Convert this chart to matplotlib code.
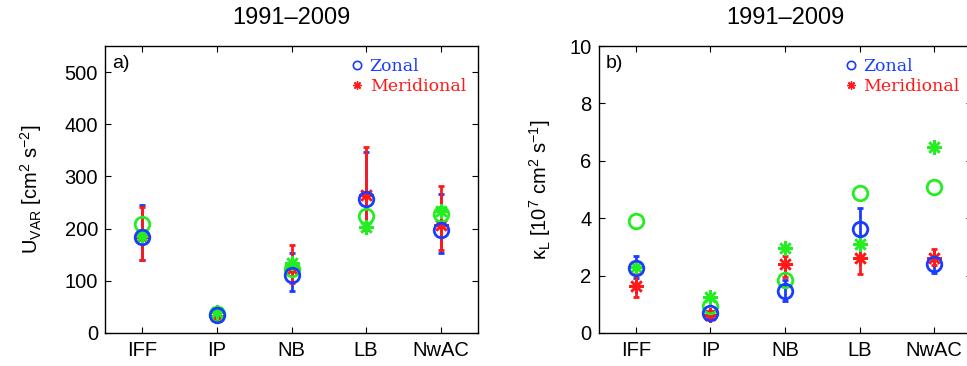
import matplotlib
matplotlib.use('Agg')
import matplotlib.pyplot as plt
from matplotlib.lines import Line2D
import numpy as np

# ==============================
# data
# ==============================
regions = ['IFF', 'IP', 'NB', 'LB', 'NwAC']

# panel a) velocity variance [cm^2 s^-2]
var_zonal      = [184, 35, 112, 256, 198]
var_zonal_lo   = [45, 5, 32, 51, 44]
var_zonal_hi   = [62, 6, 42, 91, 69]
var_merid      = [184, 32, 122, 265, 207]
var_merid_lo   = [45, 5, 26, 67, 47]
var_merid_hi   = [58, 6, 46, 91, 74]
var_model_zon  = [208, 36, 122, 224, 229]
var_model_mer  = [185, 40, 135, 204, 233]

# panel b) diffusivity [10^7 cm^2 s^-1]
kap_zonal      = [2.27, 0.68, 1.46, 3.64, 2.39]
kap_zonal_lo   = [0.35, 0.10, 0.35, 0.60, 0.29]
kap_zonal_hi   = [0.41, 0.10, 0.40, 0.73, 0.29]
kap_merid      = [1.65, 0.64, 2.39, 2.62, 2.62]
kap_merid_lo   = [0.40, 0.10, 0.45, 0.58, 0.25]
kap_merid_hi   = [0.40, 0.12, 0.29, 0.55, 0.29]
kap_model_zon  = [3.90, 0.93, 1.86, 4.87, 5.07]
kap_model_mer  = [2.30, 1.25, 2.97, 3.09, 6.47]

BLUE  = '#1a3cff'
RED   = '#ff1a1a'
GREEN = '#22ee22'
AST   = (8, 2, 0)   # matlab style asterisk

plt.rcParams['font.family'] = ['Liberation Sans', 'DejaVu Sans']
plt.rcParams['mathtext.fontset'] = 'custom'
plt.rcParams['mathtext.rm'] = 'Liberation Sans'
plt.rcParams['mathtext.it'] = 'Liberation Sans'

fig = plt.figure(figsize=(9.67, 3.66), dpi=100)
ax_a = fig.add_axes([105 / 967, 33 / 366, 373 / 967, 287 / 366])
ax_b = fig.add_axes([598.5 / 967, 33 / 366, 373 / 967, 287 / 366])

x = np.arange(1, len(regions) + 1)


def draw_panel(ax, zon, zlo, zhi, mer, mlo, mhi, mzon, mmer):
    ax.errorbar(x, zon, yerr=[zlo, zhi], fmt='o', color=BLUE, mfc='none',
                mec=BLUE, ms=10.5, mew=2, elinewidth=2, capsize=2.5, capthick=2)
    ax.errorbar(x, mer, yerr=[mlo, mhi], fmt='none', ecolor=RED,
                elinewidth=2, capsize=2.5, capthick=2)
    ax.plot(x, mer, ls='none', marker=AST, color=RED, ms=10.5, mew=1.8)
    ax.plot(x, mzon, 'o', mfc='none', mec=GREEN, ms=10.5, mew=2, ls='none')
    ax.plot(x, mmer, ls='none', marker=AST, color=GREEN, ms=10.5, mew=1.8)
    ax.set_xlim(0.5, 5.5)
    ax.set_xticks(x)
    ax.set_xticklabels(regions)
    ax.tick_params(direction='in', top=True, right=True, labelsize=14.5,
                   length=4, width=0.8, pad=6)
    ax.tick_params(axis='y', pad=5)
    for s in ax.spines.values():
        s.set_linewidth(1.0)
    ax.set_title('1991\u20132009', fontsize=17, pad=16)
    handles = [
        Line2D([], [], marker='o', mfc='none', mec=BLUE, ls='none', ms=6, mew=1.2),
        Line2D([], [], marker=AST, color=RED, ls='none', ms=6, mew=1.0),
    ]
    leg = ax.legend(handles, ['Zonal', 'Meridional'], loc='upper right',
                    frameon=False, handlelength=0.6, handletextpad=0.4,
                    labelspacing=0.15, borderaxespad=0.3,
                    prop={'family': 'DejaVu Serif', 'size': 12.5})
    for t, c in zip(leg.get_texts(), [BLUE, RED]):
        t.set_color(c)


draw_panel(ax_a, var_zonal, var_zonal_lo, var_zonal_hi,
           var_merid, var_merid_lo, var_merid_hi,
           var_model_zon, var_model_mer)
ax_a.set_ylim(0, 550)
ax_a.set_yticks(range(0, 501, 100))
ax_a.set_ylabel(r'U$_{\rm VAR}$ [cm$^2$ s$^{-2}$]', fontsize=14.5, labelpad=15)
ax_a.text(0.02, 0.97, 'a)', transform=ax_a.transAxes, ha='left', va='top', fontsize=14)

draw_panel(ax_b, kap_zonal, kap_zonal_lo, kap_zonal_hi,
           kap_merid, kap_merid_lo, kap_merid_hi,
           kap_model_zon, kap_model_mer)
ax_b.set_ylim(0, 10)
ax_b.set_yticks(range(0, 11, 2))
ax_b.set_ylabel(r'$\kappa_{\rm L}$ [10$^7$ cm$^2$ s$^{-1}$]', fontsize=14.5, labelpad=12)
ax_b.text(0.02, 0.97, 'b)', transform=ax_b.transAxes, ha='left', va='top', fontsize=14)

fig.savefig('out.png', dpi=100, facecolor='white')
